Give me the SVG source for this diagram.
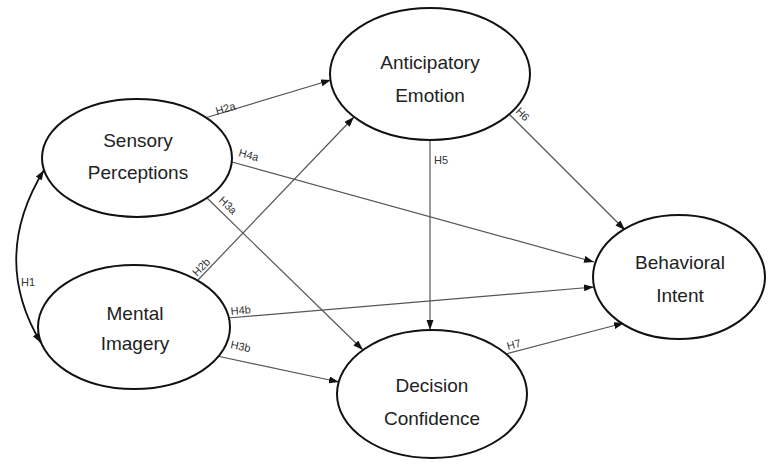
<svg xmlns="http://www.w3.org/2000/svg" width="775" height="470" viewBox="0 0 775 470">
<defs>
<marker id="ah" markerUnits="userSpaceOnUse" markerWidth="11" markerHeight="8" refX="10" refY="3.5" orient="auto-start-reverse">
<path d="M0,0 L10,3.5 L0,7 z" fill="#111"/>
</marker>
</defs>
<style>
.node ellipse{fill:#fff;stroke:#111;stroke-width:2}
.node text{font-family:"Liberation Sans",Arial,sans-serif;font-size:19px;fill:#222;text-anchor:middle}
.edge{fill:none;stroke:#555;stroke-width:1.2;marker-end:url(#ah)}
.lbl{font-family:"Liberation Sans",Arial,sans-serif;font-size:11px;fill:#333}
</style>
<rect width="775" height="470" fill="#fff"/>
<g id="connectors">
<path class="edge" d="M205,118 L331,80"/>
<path class="edge" d="M232,162 L594,262"/>
<path class="edge" d="M207,198 L363,350"/>
<path class="edge" d="M198,280 L354,117"/>
<path class="edge" d="M228,318 L594,287"/>
<path class="edge" d="M217,356 L339,382"/>
<path class="edge" d="M430,140 L430,330"/>
<path class="edge" d="M509,114 L625,230"/>
<path class="edge" d="M506,354 L624,323"/>
<path d="M44,170 Q-10,258 41,343" fill="none" stroke="#111" stroke-width="1.8" marker-start="url(#ah)" marker-end="url(#ah)"/>
<text class="lbl" x="21" y="286">H1</text>
<text class="lbl" transform="translate(217,115) rotate(-17)">H2a</text>
<text class="lbl" transform="translate(238,156) rotate(15)">H4a</text>
<text class="lbl" transform="translate(218,201) rotate(44)">H3a</text>
<text class="lbl" transform="translate(197,277) rotate(-46)">H2b</text>
<text class="lbl" transform="translate(231,315) rotate(-5)">H4b</text>
<text class="lbl" transform="translate(230,348) rotate(12)">H3b</text>
<text class="lbl" x="434" y="164">H5</text>
<text class="lbl" transform="translate(515,112) rotate(45)">H6</text>
<text class="lbl" transform="translate(508,350) rotate(-15)">H7</text>
</g>
<g id="anticipatory-emotion" class="node">
<ellipse cx="430" cy="74" rx="100" ry="66"/>
<text x="430" y="69">Anticipatory</text>
<text x="430" y="102">Emotion</text>
</g>
<g id="sensory-perceptions" class="node">
<ellipse cx="137" cy="158" rx="95" ry="59"/>
<text x="138" y="147">Sensory</text>
<text x="138" y="179">Perceptions</text>
</g>
<g id="mental-imagery" class="node">
<ellipse cx="134" cy="327" rx="96" ry="62"/>
<text x="135" y="320">Mental</text>
<text x="135" y="350">Imagery</text>
</g>
<g id="decision-confidence" class="node">
<ellipse cx="432" cy="394" rx="95" ry="64"/>
<text x="432" y="392">Decision</text>
<text x="432" y="425">Confidence</text>
</g>
<g id="behavioral-intent" class="node">
<ellipse cx="679" cy="277" rx="86" ry="62"/>
<text x="680" y="269">Behavioral</text>
<text x="680" y="302">Intent</text>
</g>
</svg>
